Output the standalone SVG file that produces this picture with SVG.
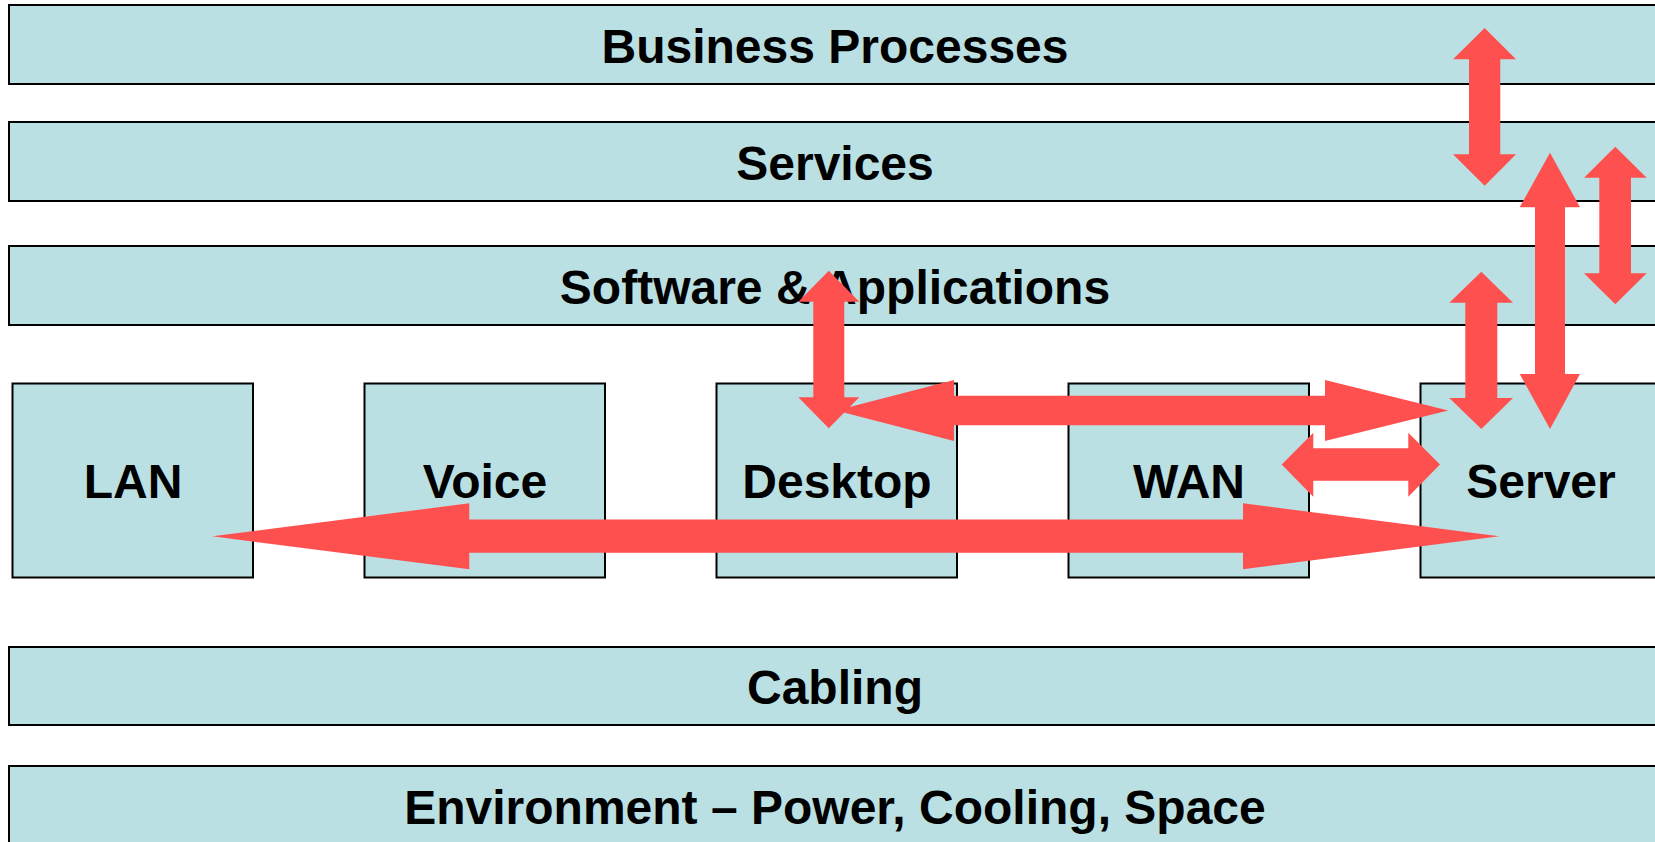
<svg xmlns="http://www.w3.org/2000/svg" width="1655" height="842" viewBox="0 0 1655 842">
<style>
.box{fill:#BBE0E3;stroke:#000;stroke-width:2}
.lbl{font-family:"Liberation Sans",Arial,sans-serif;font-weight:bold;font-size:48px;fill:#000;text-anchor:middle}
.arr{fill:#FF5050;stroke:none}
</style>
<rect width="1655" height="842" fill="#fff"/>
<g id="business"><rect class="box" x="9" y="5" width="1660" height="79"/><text class="lbl" x="835" y="63">Business Processes</text></g>
<g id="services"><rect class="box" x="9" y="122" width="1660" height="79"/><text class="lbl" x="835" y="180">Services</text></g>
<g id="software"><rect class="box" x="9" y="246" width="1660" height="79"/><text class="lbl" x="835" y="304">Software &amp; Applications</text></g>
<g id="lan"><rect class="box" x="12.5" y="383.5" width="240.5" height="194"/><text class="lbl" x="133" y="498">LAN</text></g>
<g id="voice"><rect class="box" x="364.5" y="383.5" width="240.5" height="194"/><text class="lbl" x="485" y="498">Voice</text></g>
<g id="desktop"><rect class="box" x="716.5" y="383.5" width="240.5" height="194"/><text class="lbl" x="837" y="498">Desktop</text></g>
<g id="wan"><rect class="box" x="1068.5" y="383.5" width="240.5" height="194"/><text class="lbl" x="1189" y="498">WAN</text></g>
<g id="server"><rect class="box" x="1420.5" y="383.5" width="260" height="194"/><text class="lbl" x="1541" y="498">Server</text></g>
<g id="cabling"><rect class="box" x="9" y="647" width="1660" height="78"/><text class="lbl" x="835" y="704">Cabling</text></g>
<g id="environment"><rect class="box" x="9" y="766" width="1660" height="80"/><text class="lbl" x="835" y="824">Environment – Power, Cooling, Space</text></g>
<g id="connectors">
<path class="arr" d="M212.3,536.3 L469.3,503.3 L469.3,519.6 L1243,519.6 L1243,503.3 L1499.3,536.3 L1243,569.3 L1243,552.8 L469.3,552.8 L469.3,569.3 Z"/>
<path class="arr" d="M836,410.5 L954,380 L954,395.7 L1325,395.7 L1325,380 L1448.3,410.5 L1325,441 L1325,425.3 L954,425.3 L954,441 Z"/>
<path class="arr" d="M828.8,270.7 L859.3,301.7 L844.3,301.7 L844.3,397.3 L859.3,397.3 L828.8,428.3 L798.3,397.3 L813.3,397.3 L813.3,301.7 L798.3,301.7 Z"/>
<path class="arr" d="M1281.7,464.5 L1313.3,432.7 L1313.3,448.3 L1408.3,448.3 L1408.3,432.7 L1440,464.5 L1408.3,496.7 L1408.3,480.7 L1313.3,480.7 L1313.3,496.7 Z"/>
<path class="arr" d="M1484.7,28 L1516,59.3 L1500.3,59.3 L1500.3,154.3 L1516,154.3 L1484.7,185.7 L1453,154.3 L1469,154.3 L1469,59.3 L1453,59.3 Z"/>
<path class="arr" d="M1550,152.7 L1580,207.3 L1565,207.3 L1565,374 L1580,374 L1550,429 L1519.7,374 L1535,374 L1535,207.3 L1519.7,207.3 Z"/>
<path class="arr" d="M1615.3,146.7 L1646.7,177.7 L1631,177.7 L1631,273.3 L1646.7,273.3 L1615.3,304.3 L1584,273.3 L1599.3,273.3 L1599.3,177.7 L1584,177.7 Z"/>
<path class="arr" d="M1481.3,271.7 L1513,302.7 L1497.3,302.7 L1497.3,398 L1513,398 L1481.3,429 L1449.3,398 L1465.3,398 L1465.3,302.7 L1449.3,302.7 Z"/>
</g>
</svg>
